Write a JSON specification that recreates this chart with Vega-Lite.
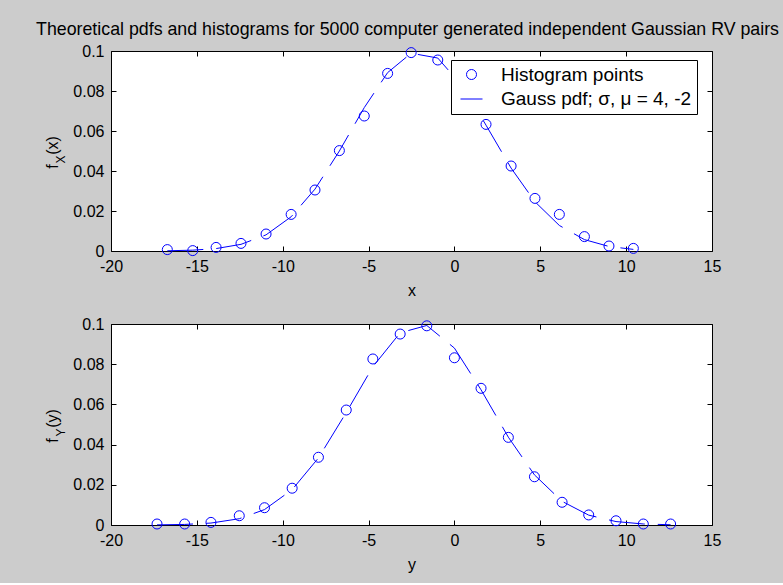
{
  "$schema": "https://vega.github.io/schema/vega-lite/v6.json",
  "background": "#cccccc",
  "padding": {"left": 35, "top": 20, "right": 3, "bottom": 10},
  "bounds": "flush",
  "spacing": 73,
  "config": {
    "font": "Liberation Sans",
    "view": {"stroke": "black", "strokeWidth": 1, "fill": "white"},
    "legend": {"strokeWidth": 1},
    "axis": {
      "grid": false,
      "domain": false,
      "tickColor": "black",
      "tickSize": -5,
      "labelColor": "black",
      "labelFontSize": 16,
      "labelPadding": 12,
      "labelFlush": false,
      "labelOverlap": false,
      "titleColor": "black",
      "titleFontSize": 16,
      "titleFontWeight": "normal"
    }
  },
  "datasets": {
    "histX": [
      {"x": -16.72, "f": 0.0007, "series": "Histogram points"},
      {"x": -15.24, "f": 0.0002, "series": "Histogram points"},
      {"x": -13.88, "f": 0.0018, "series": "Histogram points"},
      {"x": -12.43, "f": 0.0038, "series": "Histogram points"},
      {"x": -10.97, "f": 0.0085, "series": "Histogram points"},
      {"x": -9.51, "f": 0.0183, "series": "Histogram points"},
      {"x": -8.12, "f": 0.0305, "series": "Histogram points"},
      {"x": -6.70, "f": 0.0502, "series": "Histogram points"},
      {"x": -5.25, "f": 0.0675, "series": "Histogram points"},
      {"x": -3.89, "f": 0.0888, "series": "Histogram points"},
      {"x": -2.52, "f": 0.0992, "series": "Histogram points"},
      {"x": -0.97, "f": 0.0955, "series": "Histogram points"},
      {"x": 0.50, "f": 0.0810, "series": "Histogram points"},
      {"x": 1.84, "f": 0.0633, "series": "Histogram points"},
      {"x": 3.30, "f": 0.0425, "series": "Histogram points"},
      {"x": 4.69, "f": 0.0263, "series": "Histogram points"},
      {"x": 6.11, "f": 0.0183, "series": "Histogram points"},
      {"x": 7.57, "f": 0.0072, "series": "Histogram points"},
      {"x": 9.00, "f": 0.0025, "series": "Histogram points"},
      {"x": 10.42, "f": 0.0013, "series": "Histogram points"}
    ],
    "pdfX": [
      {"x": -16.72, "f": 0.000114},
      {"x": -15.24, "f": 0.000417},
      {"x": -13.88, "f": 0.001212},
      {"x": -12.43, "f": 0.003331},
      {"x": -10.97, "f": 0.008073},
      {"x": -9.51, "f": 0.017115},
      {"x": -8.12, "f": 0.030942},
      {"x": -6.70, "f": 0.050011},
      {"x": -5.25, "f": 0.071697},
      {"x": -3.89, "f": 0.089203},
      {"x": -2.52, "f": 0.098897},
      {"x": -0.97, "f": 0.096484},
      {"x": 0.50, "f": 0.082041},
      {"x": 1.84, "f": 0.062912},
      {"x": 3.30, "f": 0.041460},
      {"x": 4.69, "f": 0.024631},
      {"x": 6.11, "f": 0.012771},
      {"x": 7.57, "f": 0.005699},
      {"x": 9.00, "f": 0.002273},
      {"x": 10.42, "f": 0.000805}
    ],
    "histY": [
      {"y": -17.32, "f": 0.0005},
      {"y": -15.71, "f": 0.0005},
      {"y": -14.18, "f": 0.0013},
      {"y": -12.53, "f": 0.0046},
      {"y": -11.06, "f": 0.0086},
      {"y": -9.45, "f": 0.0183},
      {"y": -7.92, "f": 0.0337},
      {"y": -6.30, "f": 0.0572},
      {"y": -4.75, "f": 0.0826},
      {"y": -3.16, "f": 0.0950},
      {"y": -1.61, "f": 0.0991},
      {"y": 0.00, "f": 0.0832},
      {"y": 1.55, "f": 0.0680},
      {"y": 3.14, "f": 0.0436},
      {"y": 4.66, "f": 0.0240},
      {"y": 6.27, "f": 0.0113},
      {"y": 7.82, "f": 0.0050},
      {"y": 9.41, "f": 0.0021},
      {"y": 11.00, "f": 0.0005},
      {"y": 12.59, "f": 0.0005}
    ],
    "pdfY": [
      {"y": -17.32, "f": 0.000065},
      {"y": -15.71, "f": 0.000281},
      {"y": -14.18, "f": 0.000967},
      {"y": -12.53, "f": 0.003119},
      {"y": -11.06, "f": 0.007671},
      {"y": -9.45, "f": 0.017602},
      {"y": -7.92, "f": 0.033358},
      {"y": -6.30, "f": 0.055966},
      {"y": -4.75, "f": 0.078746},
      {"y": -3.16, "f": 0.095629},
      {"y": -1.61, "f": 0.099263},
      {"y": 0.00, "f": 0.088017},
      {"y": 1.55, "f": 0.067270},
      {"y": 3.14, "f": 0.043682},
      {"y": 4.66, "f": 0.024940},
      {"y": 6.27, "f": 0.011766},
      {"y": 7.82, "f": 0.004898},
      {"y": 9.41, "f": 0.001706},
      {"y": 11.00, "f": 0.000507},
      {"y": 12.59, "f": 0.000129}
    ]
  },
  "vconcat": [
    {
      "width": 601,
      "height": 200,
      "title": {
        "text": "Theoretical pdfs and histograms for 5000 computer generated independent Gaussian RV pairs",
        "fontSize": 17.8,
        "fontWeight": "normal",
        "color": "black",
        "anchor": "middle",
        "frame": "group",
        "dx": -4,
        "offset": 4
      },
      "layer": [
        {
          "data": {"name": "histX"},
          "mark": {"type": "point", "shape": "circle", "filled": false, "size": 100, "strokeWidth": 1, "color": "#0000ff", "opacity": 1},
          "encoding": {
            "x": {
              "field": "x", "type": "quantitative",
              "scale": {"domain": [-20, 15], "nice": false, "zero": false},
              "axis": {"orient": "bottom", "values": [-20, -15, -10, -5, 0, 5, 10, 15], "labelExpr": "replace(datum.label, '\u2212', '-')", "title": "x", "titlePadding": 8}
            },
            "y": {
              "field": "f", "type": "quantitative",
              "scale": {"domain": [0, 0.1], "nice": false},
              "axis": {"orient": "left", "values": [0, 0.02, 0.04, 0.06, 0.08, 0.1], "format": ".2~f", "title": "f", "titleAngle": 270, "titleAlign": "center", "titleBaseline": "middle", "titleX": -59, "titleY": 115}
            },
            "shape": {
              "field": "series", "type": "nominal",
              "scale": {"domain": ["Histogram points", "Gauss pdf; \u03c3, \u03bc = 4, -2"], "range": ["circle", "M-2.2,0H2.2"]},
              "legend": {
                "title": null,
                "orient": "none",
                "legendX": 340,
                "legendY": 9,
                "fillColor": "white",
                "strokeColor": "black",
                "cornerRadius": 0,
                "padding": 5,
                "rowPadding": 4.5,
                "symbolSize": 100,
                "symbolOffset": 6,
                "symbolStrokeColor": "#0000ff",
                "symbolStrokeWidth": 1,
                "symbolFillColor": "transparent",
                "labelOffset": 20,
                "labelFontSize": 19,
                "labelColor": "black",
                "labelLimit": 400
              }
            }
          }
        },
        {
          "data": {"name": "pdfX"},
          "mark": {"type": "line", "color": "#0000ff", "strokeWidth": 1, "strokeDash": [36, 13]},
          "encoding": {
            "x": {
              "field": "x", "type": "quantitative",
              "axis": {"orient": "top", "values": [-20, -15, -10, -5, 0, 5, 10, 15], "labels": false, "title": "(x)", "titleAngle": 270, "titleAlign": "center", "titleBaseline": "middle", "titleX": -59, "titleY": 94}
            },
            "y": {
              "field": "f", "type": "quantitative",
              "axis": {"orient": "right", "values": [0, 0.02, 0.04, 0.06, 0.08, 0.1], "labels": false, "title": "X", "titleFontSize": 12, "titleAngle": 270, "titleAlign": "center", "titleBaseline": "middle", "titleX": -652, "titleY": 108}
            }
          }
        }
      ],
      "resolve": {"axis": {"x": "independent", "y": "independent"}}
    },
    {
      "width": 601,
      "height": 201,
      "layer": [
        {
          "data": {"name": "histY"},
          "mark": {"type": "point", "shape": "circle", "filled": false, "size": 100, "strokeWidth": 1, "color": "#0000ff", "opacity": 1},
          "encoding": {
            "x": {
              "field": "y", "type": "quantitative",
              "scale": {"domain": [-20, 15], "nice": false, "zero": false},
              "axis": {"orient": "bottom", "values": [-20, -15, -10, -5, 0, 5, 10, 15], "labelExpr": "replace(datum.label, '\u2212', '-')", "title": "y", "titlePadding": 8}
            },
            "y": {
              "field": "f", "type": "quantitative",
              "scale": {"domain": [0, 0.1], "nice": false},
              "axis": {"orient": "left", "values": [0, 0.02, 0.04, 0.06, 0.08, 0.1], "format": ".2~f", "title": "f", "titleAngle": 270, "titleAlign": "center", "titleBaseline": "middle", "titleX": -59, "titleY": 116}
            }
          }
        },
        {
          "data": {"name": "pdfY"},
          "mark": {"type": "line", "color": "#0000ff", "strokeWidth": 1, "strokeDash": [36, 13]},
          "encoding": {
            "x": {
              "field": "y", "type": "quantitative",
              "axis": {"orient": "top", "values": [-20, -15, -10, -5, 0, 5, 10, 15], "labels": false, "title": "(y)", "titleAngle": 270, "titleAlign": "center", "titleBaseline": "middle", "titleX": -59, "titleY": 94}
            },
            "y": {
              "field": "f", "type": "quantitative",
              "axis": {"orient": "right", "values": [0, 0.02, 0.04, 0.06, 0.08, 0.1], "labels": false, "title": "Y", "titleFontSize": 12, "titleAngle": 270, "titleAlign": "center", "titleBaseline": "middle", "titleX": -652, "titleY": 108}
            }
          }
        }
      ],
      "resolve": {"axis": {"x": "independent", "y": "independent"}}
    }
  ]
}
